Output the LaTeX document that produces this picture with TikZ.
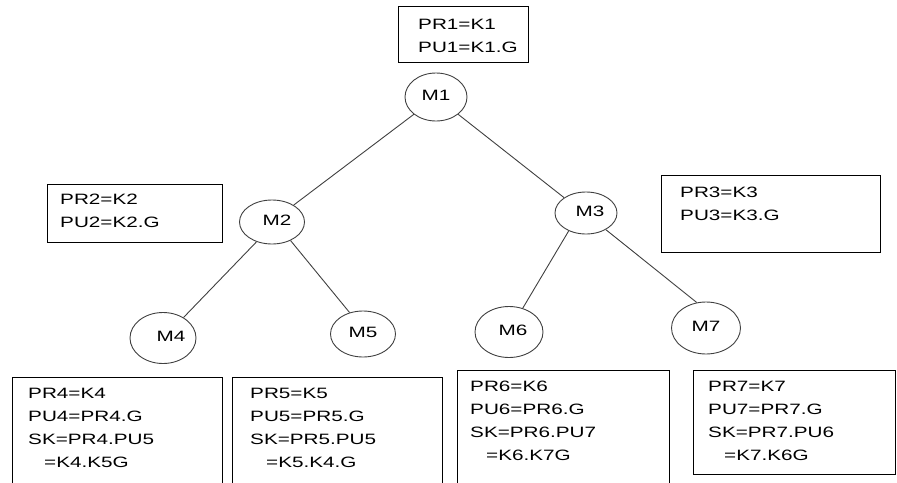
\documentclass[tikz,border=0pt]{standalone}
\usepackage{fontspec}
\setmainfont{Liberation Sans}[FakeStretch=1.38]
\usetikzlibrary{shapes.geometric}
\newcommand\fsz{\fontsize{15}{23}\selectfont}
\newcommand\mlbl[3]{\hspace*{#1}\raisebox{#2}{#3}}
\begin{document}
\begin{tikzpicture}[x=1pt,y=-1pt,
  mnode/.style={ellipse, draw=black!75, line width=0.9pt, inner sep=0pt, font=\fsz},
  boxnode/.style={draw=black, line width=1.1pt, rectangle, anchor=north west, inner sep=0pt},
  txt/.style={anchor=north west, align=left, inner sep=0pt, font=\fsz},
  link/.style={draw=black!75, line width=0.9pt}]
\useasboundingbox (0,0) rectangle (897,482);
\clip (0,0) rectangle (897,482);

% boxes
\node[boxnode, minimum width=130pt, minimum height=56pt] (b1) at (398,6) {};
\node[boxnode, minimum width=175pt, minimum height=58pt] (b2) at (47,184) {};
\node[boxnode, minimum width=219pt, minimum height=77pt] (b3) at (661,175) {};
\node[boxnode, minimum width=210pt, minimum height=130pt] (b4) at (12,377) {};
\node[boxnode, minimum width=210pt, minimum height=130pt] (b5) at (232,377) {};
\node[boxnode, minimum width=212pt, minimum height=130pt] (b6) at (457,370) {};
\node[boxnode, minimum width=202pt, minimum height=104pt] (b7) at (693,370) {};

% box texts
\node[txt] (t1) at (418,18.6) {PR1=K1\\PU1=K1.G};
\node[txt] (t2) at (60,193.6) {PR2=K2\\PU2=K2.G};
\node[txt] (t3) at (680,186.6) {PR3=K3\\PU3=K3.G};
\node[txt] (t4) at (28,387.6) {PR4=K4\\PU4=PR4.G\\SK=PR4.PU5\\\hspace*{16pt}=K4.K5G};
\node[txt] (t5) at (250,387.6) {PR5=K5\\PU5=PR5.G\\SK=PR5.PU5\\\hspace*{16pt}=K5.K4.G};
\node[txt] (t6) at (470,380.6) {PR6=K6\\PU6=PR6.G\\SK=PR6.PU7\\\hspace*{16pt}=K6.K7G};
\node[txt] (t7) at (708,380.6) {PR7=K7\\PU7=PR7.G\\SK=PR7.PU6\\\hspace*{16pt}=K7.K6G};

% tree nodes
\node[mnode, minimum width=62pt, minimum height=48pt] (M1) at (436,97) {\mlbl{0pt}{3pt}{M1}};
\node[mnode, minimum width=65pt, minimum height=44pt] (M2) at (272,222) {\mlbl{10pt}{3pt}{M2}};
\node[mnode, minimum width=62pt, minimum height=42pt] (M3) at (586,213) {\mlbl{8pt}{3pt}{M3}};
\node[mnode, minimum width=66pt, minimum height=51pt] (M4) at (163,338) {\mlbl{16pt}{3pt}{M4}};
\node[mnode, minimum width=65pt, minimum height=46pt] (M5) at (363,334) {\mlbl{0pt}{3pt}{M5}};
\node[mnode, minimum width=68pt, minimum height=51pt] (M6) at (509,332) {\mlbl{8pt}{3pt}{M6}};
\node[mnode, minimum width=69pt, minimum height=52pt] (M7) at (706,328) {\mlbl{0pt}{3pt}{M7}};

% connectors
\draw[link] (M1.218) -- (M2.38);
\draw[link] (M1.322) -- (M3.145);
\draw[link] (M2.232) -- (M4.45);
\draw[link] (M2.315) -- (M5.122);
\draw[link] (M3.226) -- (M6.60);
\draw[link] (M3.320) -- (M7.110);
\end{tikzpicture}
\end{document}
